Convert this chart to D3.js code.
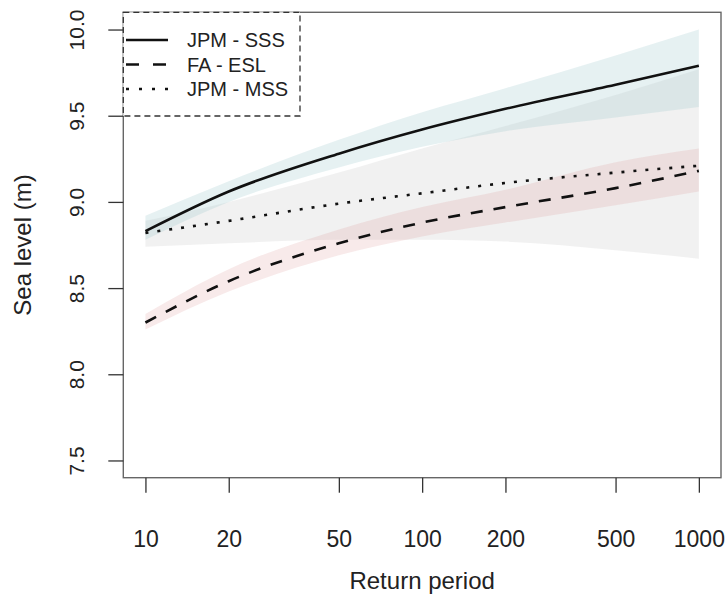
<!DOCTYPE html>
<html lang="en">
<head>
    <meta charset="UTF-8">
    <title>Return period vs sea level</title>
    <style>
        body { margin: 0; background: #fff; }
        text { font-family: "Liberation Sans", Arial, sans-serif; fill: #222; }
    </style>
</head>
<body>
    <div id="chart"></div>
    <script src="https://d3js.org/d3.v7.min.js"></script>
    <script>
        // values
        var returnPeriods = [10, 20, 50, 100, 200, 500, 1000];

        var sssMid  = [8.83, 9.06, 9.28, 9.42, 9.54, 9.68, 9.79];
        var sssLow  = [8.78, 9.00, 9.20, 9.32, 9.41, 9.49, 9.55];
        var sssHigh = [8.92, 9.12, 9.36, 9.52, 9.66, 9.85, 10.0];

        var eslMid  = [8.30, 8.54, 8.76, 8.88, 8.97, 9.08, 9.18];
        var eslLow  = [8.26, 8.48, 8.69, 8.80, 8.88, 8.98, 9.06];
        var eslHigh = [8.35, 8.61, 8.84, 8.97, 9.07, 9.23, 9.31];

        var mssMid  = [8.82, 8.89, 8.99, 9.05, 9.11, 9.17, 9.21];
        var mssLow  = [8.74, 8.76, 8.78, 8.78, 8.77, 8.72, 8.67];
        var mssHigh = [8.89, 9.00, 9.17, 9.31, 9.44, 9.62, 9.77];

        var xTicks = [10, 20, 50, 100, 200, 500, 1000];
        var yTicks = [7.5, 8.0, 8.5, 9.0, 9.5, 10.0];
        var legendLabels = ["JPM - SSS", "FA - ESL", "JPM - MSS"];

        var width = 728, height = 599;
        var box = {left: 123.3, right: 721, top: 12.3, bottom: 477.7};

        var svg = d3.select('#chart')
            .append('svg')
                .attr('width', width)
                .attr('height', height);

        var x = d3.scaleLog()
            .domain([Math.pow(10, 0.92), Math.pow(10, 3.08)])
            .range([box.left, box.right]);

        var y = d3.scaleLinear()
            .domain([7.4, 10.1])
            .range([box.bottom, box.top]);

        function rows(mid, lo, hi) {
            return returnPeriods.map(function(rp, i) {
                return {rp: rp, mid: mid[i], lo: lo[i], hi: hi[i]};
            });
        }
        var series = [
            {name: legendLabels[0], data: rows(sssMid, sssLow, sssHigh), fill: 'rgba(160,200,205,0.26)', dash: null, key: '13,14'},
            {name: legendLabels[1], data: rows(eslMid, eslLow, eslHigh), fill: 'rgba(220,150,150,0.2)', dash: '12,11', key: '13,14'},
            {name: legendLabels[2], data: rows(mssMid, mssLow, mssHigh), fill: 'rgba(200,200,200,0.25)', dash: '3,9', key: '3,10'}
        ];
        series[0].key = null;

        var area = d3.area()
            .x(function(d) { return x(d.rp); })
            .y0(function(d) { return y(d.lo); })
            .y1(function(d) { return y(d.hi); })
            .curve(d3.curveMonotoneX);

        var line = d3.line()
            .x(function(d) { return x(d.rp); })
            .y(function(d) { return y(d.mid); })
            .curve(d3.curveMonotoneX);

        // bands: grey first, then blue, then red
        [series[2], series[0], series[1]].forEach(function(s) {
            svg.append('path')
                .datum(s.data)
                .attr('d', area)
                .attr('fill', s.fill);
        });

        series.forEach(function(s) {
            svg.append('path')
                .datum(s.data)
                .attr('d', line)
                .attr('fill', 'none')
                .attr('stroke', '#111')
                .attr('stroke-width', 2.6)
                .attr('stroke-dasharray', s.dash);
        });

        // plot frame
        svg.append('rect')
            .attr('x', box.left)
            .attr('y', box.top)
            .attr('width', box.right - box.left)
            .attr('height', box.bottom - box.top)
            .attr('fill', 'none')
            .attr('stroke', '#666')
            .attr('stroke-width', 1.4);

        // axes
        var xAxis = svg.append('g')
            .attr('transform', 'translate(0,' + box.bottom + ')')
            .call(d3.axisBottom(x).tickValues(xTicks).tickFormat(d3.format('d')).tickSize(15).tickPadding(38));
        xAxis.select('.domain').remove();

        var yAxis = svg.append('g')
            .attr('transform', 'translate(' + box.left + ',0)')
            .call(d3.axisLeft(y).tickValues(yTicks).tickFormat(d3.format('.1f')).tickSize(15));
        yAxis.select('.domain').remove();

        svg.selectAll('.tick line').attr('stroke', '#333').attr('stroke-width', 1.3);
        xAxis.selectAll('.tick text')
            .attr('font-size', 23)
            .attr('font-family', '"Liberation Sans", Arial, sans-serif')
            .attr('fill', '#222');

        yAxis.selectAll('.tick text')
            .attr('font-size', 21)
            .attr('font-family', '"Liberation Sans", Arial, sans-serif')
            .attr('fill', '#222')
            .attr('text-anchor', 'middle')
            .attr('dy', null)
            .attr('x', null)
            .attr('dominant-baseline', 'central')
            .attr('transform', function(d) { return 'translate(' + (76 - box.left) + ',0) rotate(-90)'; });

        svg.append('text')
            .attr('x', (box.left + box.right) / 2)
            .attr('y', 580)
            .attr('text-anchor', 'middle')
            .attr('dominant-baseline', 'central')
            .style('font-size', '24px')
            .text('Return period');

        svg.append('text')
            .attr('transform', 'translate(22,' + (box.top + box.bottom) / 2 + ') rotate(-90)')
            .attr('text-anchor', 'middle')
            .attr('dominant-baseline', 'central')
            .style('font-size', '24px')
            .text('Sea level (m)');

        // legend
        var legend = svg.append('g');
        legend.append('rect')
            .attr('x', box.left)
            .attr('y', box.top)
            .attr('width', 300 - box.left)
            .attr('height', 116 - box.top)
            .attr('fill', '#fff')
            .attr('stroke', '#333')
            .attr('stroke-width', 1.3)
            .attr('stroke-dasharray', '6,4');

        var items = legend.selectAll('.legend')
            .data(series)
            .enter().append('g')
            .attr('class', 'legend')
            .attr('transform', function(d, i) { return 'translate(0,' + (40 + i * 24.5) + ')'; });

        items.append('line')
            .attr('x1', 126)
            .attr('x2', 168)
            .attr('stroke', '#111')
            .attr('stroke-width', 2.6)
            .attr('stroke-dasharray', function(d) { return d.key; });

        items.append('text')
            .attr('x', 187)
            .attr('dominant-baseline', 'central')
            .style('font-size', '20px')
            .text(function(d) { return d.name; });
    </script>
</body>
</html>
